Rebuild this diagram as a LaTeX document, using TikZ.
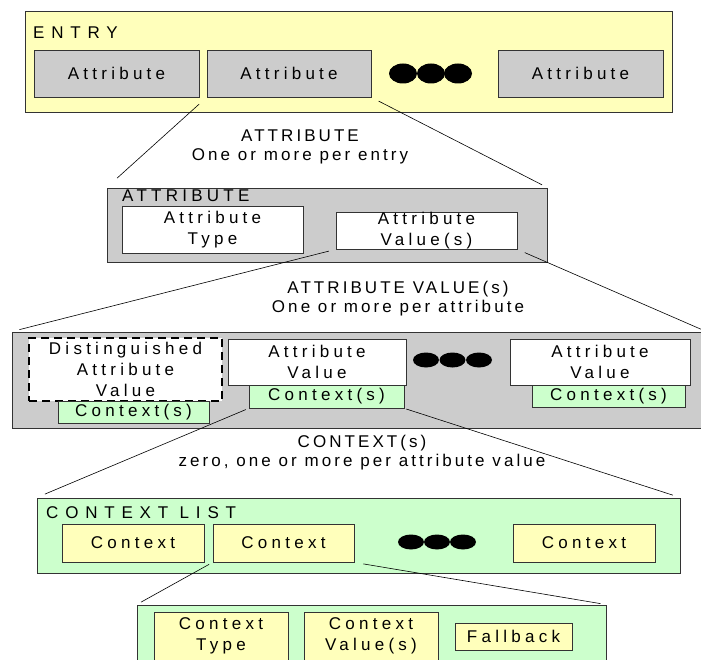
\documentclass[tikz,border=0pt]{standalone}
\usepackage{fontspec}
\setmainfont{Liberation Sans}[LetterSpace=25]
\newfontfamily\notefont{Liberation Sans}[LetterSpace=18]
\newfontfamily\widefont{Liberation Sans}[LetterSpace=40]
\newcommand\boxfont{\fontsize{17}{21}\selectfont}
\definecolor{paleyellow}{HTML}{FFFFBB}
\definecolor{palegreen}{HTML}{CCFFCC}
\definecolor{palegray}{HTML}{CCCCCC}
\begin{document}
\begin{tikzpicture}[x=1pt,y=-1pt,
  box/.style={draw=black!80,line width=0.8pt,inner sep=0pt,align=center,font=\boxfont},
  ybox/.style={box,fill=paleyellow},
  gbox/.style={box,fill=palegray},
  wbox/.style={box,fill=white},
  cbox/.style={box,fill=palegreen},
  title/.style={anchor=base west,inner sep=0pt,font=\boxfont},
  note/.style={align=center,inner sep=0pt,font=\fontsize{17}{19}\selectfont\notefont},
  link/.style={line width=0.6pt}]
\useasboundingbox (0,0) rectangle (701,660);

\node[ybox,minimum width=647,minimum height=101] (entry) at (348.5,61.5) {};
\node[title,font=\boxfont\widefont] (entrytitle) at (33,39) {ENTRY};
\node[gbox,minimum width=165,minimum height=47] (ea1) at (116.5,73.5) {Attribute};
\node[gbox,minimum width=164,minimum height=47] (ea2) at (289,73.5) {Attribute};
\node[gbox,minimum width=165,minimum height=47] (ea3) at (580.5,73.5) {Attribute};
\foreach \x in {403,431,458} \fill (\x,73.5) ellipse (14 and 10);

\node[note] (attrnote) at (300,147) {ATTRIBUTE\\One or more per entry};

\node[gbox,minimum width=440,minimum height=74] (attr) at (327,225) {};
\node[title] (attrtitle) at (122,202) {ATTRIBUTE};
\node[wbox,minimum width=181,minimum height=47] (atype) at (212.5,229.5) {Attribute\\Type};
\node[wbox,minimum width=181,minimum height=37] (aval) at (426.5,230.5) {Attribute\\Value(s)};

\node[note] (valnote) at (398,299) {ATTRIBUTE VALUE(s)\\One or more per attribute};

\node[gbox,minimum width=694,minimum height=96] (avbox) at (359,380) {};
\node[wbox,draw=black,dashed,dash pattern=on 8pt off 5pt,line width=2pt,minimum width=193,minimum height=63] (dist) at (125.5,369.5) {Distinguished\\Attribute\\Value};
\node[cbox,minimum width=151,minimum height=22] (dctx) at (133.5,412) {Context(s)};
\node[wbox,minimum width=178,minimum height=46] (av2) at (317,362) {Attribute\\Value};
\node[cbox,minimum width=155,minimum height=23] (ctx2) at (326.5,396.5) {Context(s)};
\node[wbox,minimum width=180,minimum height=46] (av3) at (600,362) {Attribute\\Value};
\node[cbox,minimum width=153,minimum height=22] (ctx3) at (608.5,396) {Context(s)};
\foreach \x in {426,452.5,479} \fill (\x,360) ellipse (13 and 7.5);

\node[note] (ctxnote) at (362,452.5) {CONTEXT(s)\\zero, one or more per attribute value};

\node[cbox,minimum width=643,minimum height=75] (clist) at (358.5,535.5) {};
\node[title,font=\boxfont\widefont] (clisttitle) at (46,518) {CONTEXT LIST};
\node[ybox,minimum width=142,minimum height=38] (c1) at (133,543) {Context};
\node[ybox,minimum width=141,minimum height=38] (c2) at (283.5,543) {Context};
\node[ybox,minimum width=142,minimum height=38] (c3) at (584,543) {Context};
\foreach \x in {411,437,463} \fill (\x,542) ellipse (13 and 7.5);

\node[cbox,minimum width=469,minimum height=65] (cdet) at (371.5,637.5) {};
\node[ybox,minimum width=134,minimum height=48] (ctype) at (221,636) {Context\\Type};
\node[ybox,minimum width=134,minimum height=48] (cval) at (371,636) {Context\\Value(s)};
\node[ybox,minimum width=117,minimum height=27] (fb) at (513.5,636.5) {Fallback};

\draw[link,shorten <=10pt,shorten >=14pt] (ea2.south west) -- (attr.north west);
\draw[link,shorten <=8pt,shorten >=6pt] (ea2.south east) -- (attr.north east);
\draw[link,shorten <=7pt,shorten >=8pt] (aval.south west) -- (avbox.north west);
\draw[link,shorten <=8pt,shorten >=3pt] (aval.south east) -- (avbox.north east);
\draw[link,shorten <=3pt,shorten >=9pt] (ctx2.south west) -- (clist.north west);
\draw[link,shorten <=2pt,shorten >=8pt] (ctx2.south east) -- (clist.north east);
\draw[link,shorten <=4pt,shorten >=5pt] (c2.south west) -- (cdet.north west);
\draw[link,shorten <=9pt,shorten >=6pt] (c2.south east) -- (cdet.north east);
\end{tikzpicture}
\end{document}
